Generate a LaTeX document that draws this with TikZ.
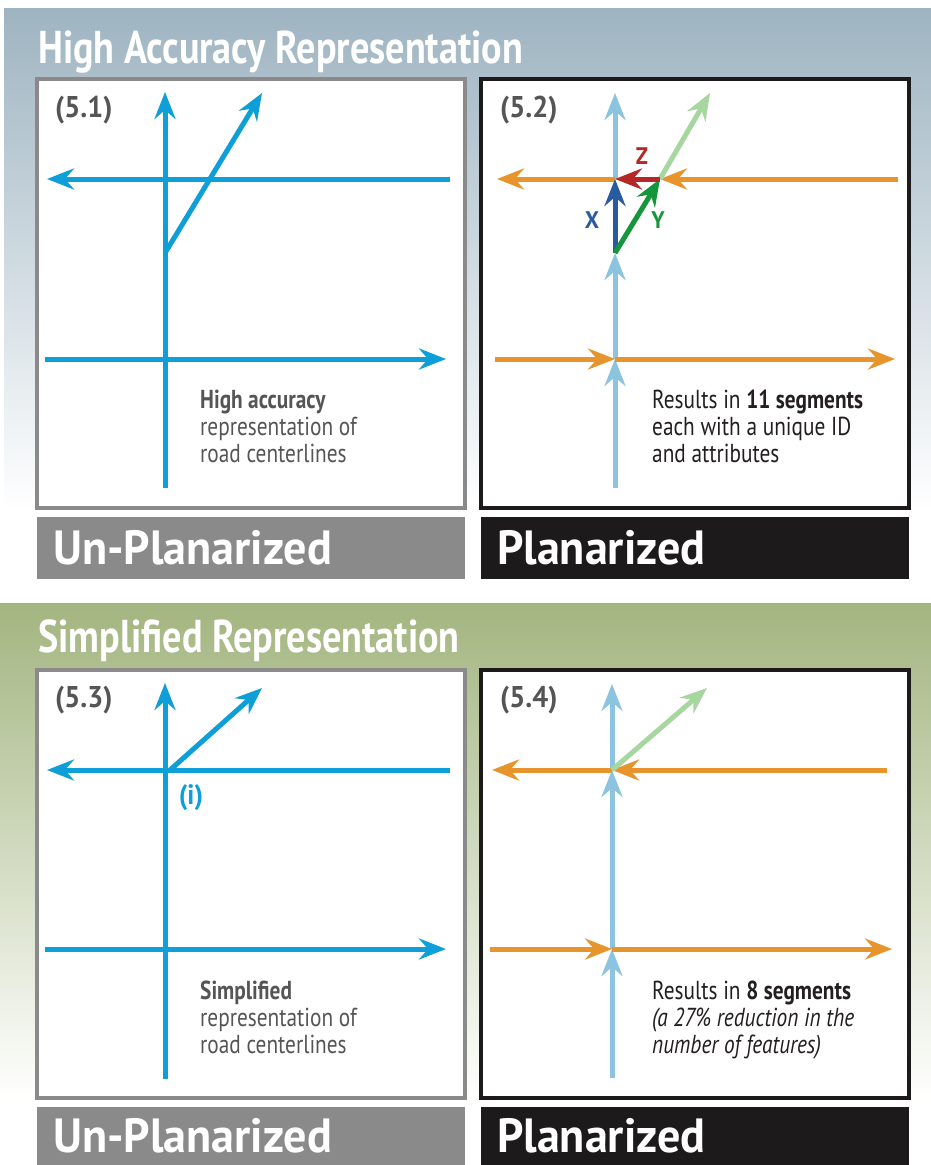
\documentclass[tikz,border=0pt]{standalone}
\usepackage{fontspec}
\setmainfont{PT Sans}
\newfontfamily\titlefont[FakeStretch=0.83]{PT Sans}
\newfontfamily\barfont[FakeStretch=0.96]{PT Sans}
\newfontfamily\tagfont[FakeStretch=0.94]{PT Sans}
\newfontfamily\notefont[FakeStretch=0.82]{PT Sans}
\usetikzlibrary{arrows.meta,positioning}
\definecolor{road}{RGB}{14,158,216}
\definecolor{lightroad}{RGB}{140,196,224}
\definecolor{seg}{RGB}{232,148,44}
\definecolor{lightgreen}{RGB}{168,214,160}
\definecolor{ygreen}{RGB}{22,150,60}
\definecolor{xblue}{RGB}{40,90,160}
\definecolor{zred}{RGB}{180,40,40}
\definecolor{bandblue}{RGB}{158,180,193}
\definecolor{bandgreen}{RGB}{163,181,128}
\definecolor{labelgray}{RGB}{85,85,85}
\definecolor{notedark}{RGB}{35,31,32}
\definecolor{bargray}{RGB}{138,138,138}
\definecolor{barblack}{RGB}{28,26,26}
\tikzset
    {
        roadline/.style = {line width=5pt, -{Stealth[length=27pt,width=21pt,inset=9pt]}},
        frame/.style = {draw=#1, line width=4pt, fill=white},
        bar/.style = {fill=#1, text=white, anchor=north west, inner xsep=16pt, inner ysep=0pt,
                      text width=396pt, align=left, minimum height=58pt,
                      font=\barfont\bfseries\fontsize{48}{50}\selectfont},
        title/.style = {anchor=base west, inner sep=0pt, text=white,
                        font=\titlefont\bfseries\fontsize{46}{50}\selectfont},
        tag/.style = {anchor=west, inner sep=0pt, text=labelgray,
                      font=\tagfont\bfseries\fontsize{30}{32}\selectfont},
        note/.style = {anchor=north west, inner sep=0pt, align=left,
                       font=\notefont\fontsize{26}{27}\selectfont},
        letter/.style = {inner sep=0pt, font=\tagfont\bfseries\fontsize{24}{26}\selectfont}
    }
\begin{document}
\begin{tikzpicture}[x=1pt, y=-1pt]
    \useasboundingbox (0,0) rectangle (931,1165);
    % background bands
    \fill[top color=bandblue, bottom color=white] (4,8) rectangle (931,510);
    \fill[top color=bandgreen, bottom color=white] (0,603) rectangle (931,1100);
    \node[title] (hightitle) at (38,63) {High Accuracy Representation};
    \node[title] (simptitle) at (38,652) {Simplified Representation};
    % frames
    \draw[frame=bargray] (37,79) rectangle (465,508);
    \draw[frame=barblack] (481,79) rectangle (909,508);
    \draw[frame=bargray] (37,670) rectangle (465,1098);
    \draw[frame=barblack] (481,670) rectangle (909,1098);
    \node[bar=bargray, minimum height=62pt] (unp1) at (37,517) {Un-Planarized};
    \node[bar=barblack, minimum height=62pt] (pla1) at (481,517) {Planarized};
    \node[bar=bargray] (unp2) at (37,1107) {Un-Planarized};
    \node[bar=barblack] (pla2) at (481,1107) {Planarized};
    \node[tag] (t51) at (55,110) {(5.1)};
    \node[tag] (t52) at (500,110) {(5.2)};
    \node[tag] (t53) at (55,700) {(5.3)};
    \node[tag] (t54) at (500,700) {(5.4)};

    % (5.1) high accuracy, un-planarized
    \coordinate (a1s) at (165,488);
    \coordinate (a1n) at (165,92);
    \coordinate (h1e) at (450,179);
    \coordinate (h1w) at (47,179);
    \coordinate (l1w) at (45,359);
    \coordinate (l1e) at (446,359);
    \coordinate (d1s) at (165,253);
    \coordinate (d1n) at (262,93);
    \draw[roadline, road] (a1s) -- (a1n);
    \draw[roadline, road] (h1e) -- (h1w);
    \draw[roadline, road] (l1w) -- (l1e);
    \draw[roadline, road] (d1s) -- (d1n);
    \node[note, text=labelgray] (n51) at (200,390)
        {\textbf{High accuracy}\\representation of\\road centerlines};

    % (5.2) high accuracy, planarized
    \coordinate (v2s) at (615,488);
    \coordinate (v2b) at (615,359);
    \coordinate (v2m) at (615,253);
    \coordinate (v2t) at (615,179);
    \coordinate (v2n) at (615,93);
    \coordinate (o2e) at (898,179);
    \coordinate (o2j) at (660,179);
    \coordinate (o2w) at (497,179);
    \coordinate (b2w) at (495,359);
    \coordinate (b2e) at (895,359);
    \coordinate (g2n) at (710,93);
    \draw[roadline, lightroad] (v2s) -- (v2b);
    \draw[roadline, lightroad] (v2b) -- (v2m);
    \draw[roadline, lightroad] (v2t) -- (v2n);
    \draw[roadline, seg] (o2e) -- (o2j);
    \draw[roadline, seg] (v2t) -- (o2w);
    \draw[roadline, seg] (b2w) -- (v2b);
    \draw[roadline, seg] (v2b) -- (b2e);
    \draw[roadline, lightgreen] (o2j) -- (g2n);
    \draw[roadline, xblue] (v2m) -- (v2t);
    \draw[roadline, ygreen] (v2m) -- (o2j);
    \draw[roadline, zred] (o2j) -- (v2t);
    \node[letter, text=xblue] (xlab) at (592,220) {X};
    \node[letter, text=ygreen] (ylab) at (658,220) {Y};
    \node[letter, text=zred] (zlab) at (642,156) {Z};
    \node[note, text=notedark] (n52) at (652,390)
        {Results in \textbf{11 segments}\\each with a unique ID\\and attributes};

    % (5.3) simplified, un-planarized
    \coordinate (a3s) at (165,1079);
    \coordinate (a3n) at (165,683);
    \coordinate (h3e) at (450,770);
    \coordinate (h3w) at (47,770);
    \coordinate (l3w) at (45,949);
    \coordinate (l3e) at (446,949);
    \coordinate (d3s) at (170,770);
    \coordinate (d3n) at (262,688);
    \draw[roadline, road] (a3s) -- (a3n);
    \draw[roadline, road] (h3e) -- (h3w);
    \draw[roadline, road] (l3w) -- (l3e);
    \draw[roadline, road] (d3s) -- (d3n);
    \node[letter, text=road, font=\tagfont\bfseries\fontsize{28}{30}\selectfont] (ilab) at (191,798) {(i)};
    \node[note, text=labelgray] (n53) at (200,981)
        {\textbf{Simplified}\\representation of\\road centerlines};

    % (5.4) simplified, planarized
    \coordinate (v4s) at (612,1078);
    \coordinate (v4b) at (612,949);
    \coordinate (v4t) at (612,770);
    \coordinate (v4n) at (612,684);
    \coordinate (o4e) at (887,770);
    \coordinate (o4w) at (492,770);
    \coordinate (b4w) at (490,949);
    \coordinate (b4e) at (892,949);
    \coordinate (g4n) at (707,688);
    \draw[roadline, lightroad] (v4s) -- (v4b);
    \draw[roadline, lightroad] (v4b) -- (v4t);
    \draw[roadline, lightroad] (v4t) -- (v4n);
    \draw[roadline, seg] (o4e) -- (v4t);
    \draw[roadline, seg] (v4t) -- (o4w);
    \draw[roadline, seg] (b4w) -- (v4b);
    \draw[roadline, seg] (v4b) -- (b4e);
    \draw[roadline, lightgreen] (v4t) -- (g4n);
    \node[note, text=notedark] (n54) at (652,981)
        {Results in \textbf{8 segments}\\\textit{(a 27\% reduction in the}\\\textit{number of features)}};
\end{tikzpicture}
\end{document}
